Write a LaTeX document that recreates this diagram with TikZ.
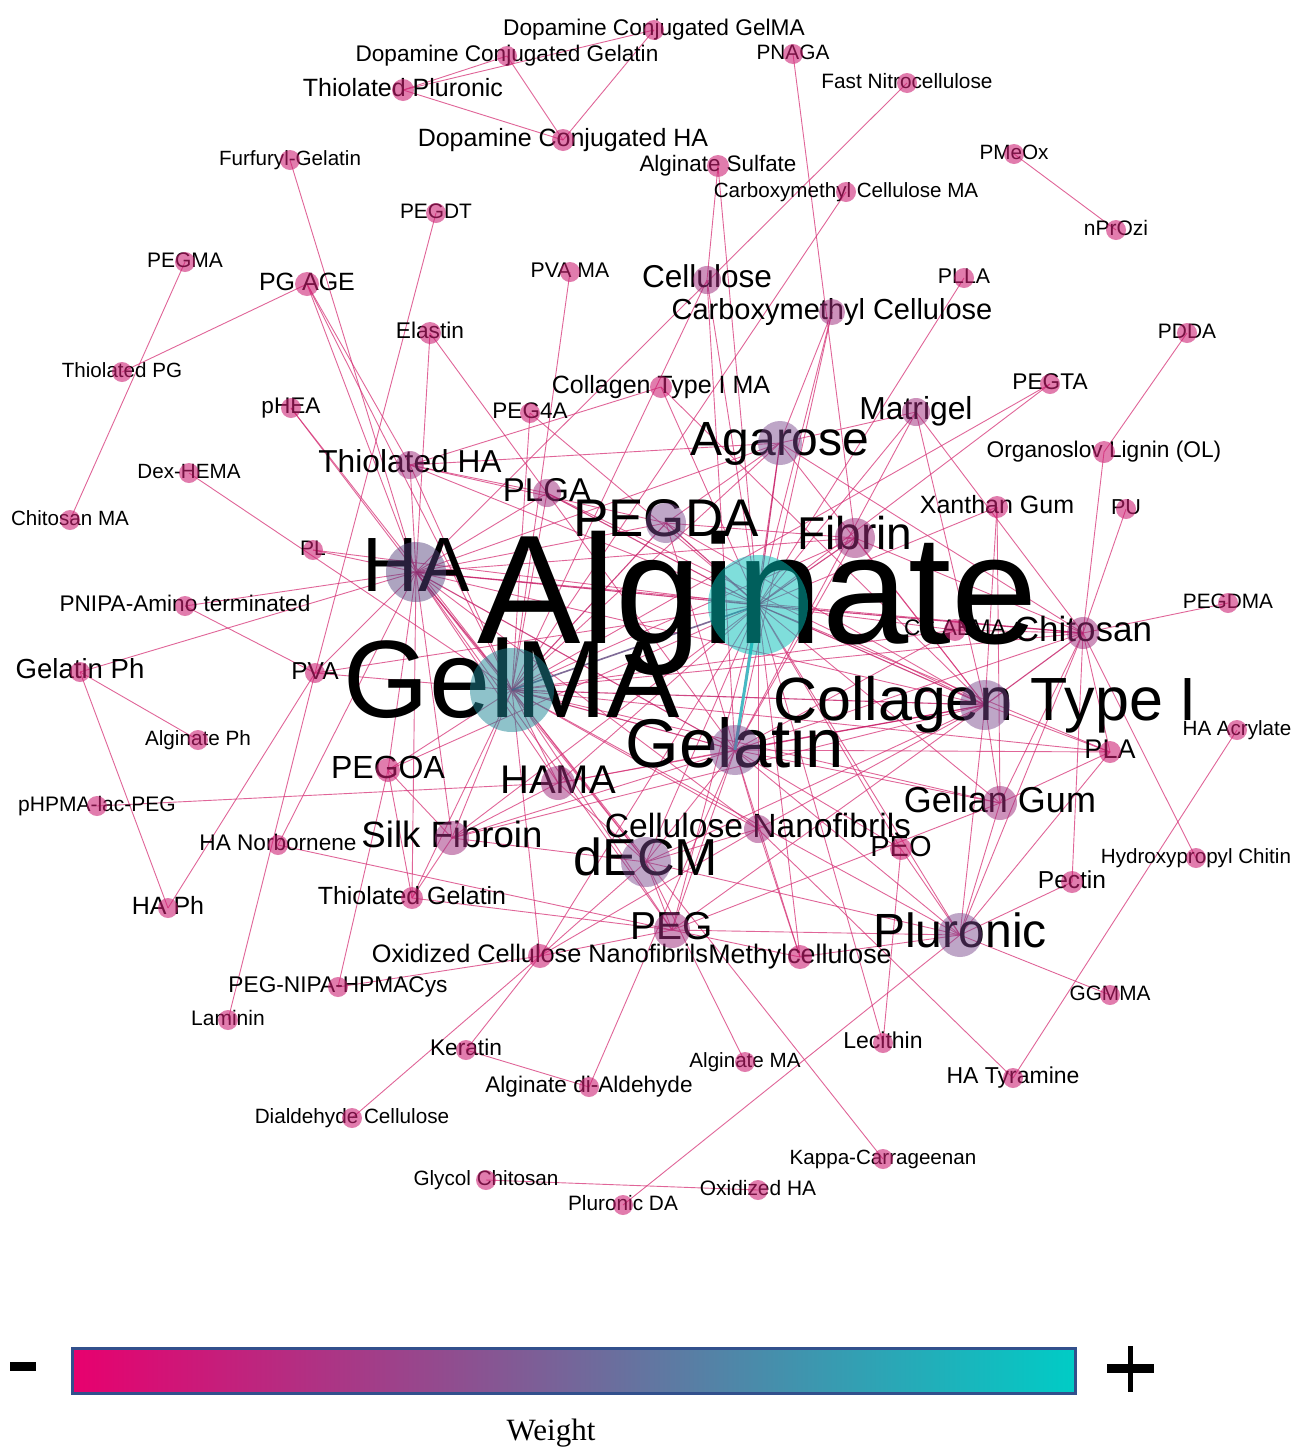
\documentclass[tikz,border=0pt]{standalone}
\usepackage{fontspec}
\setmainfont{Liberation Sans}
\newfontfamily\serifw{Liberation Serif}
\pgfdeclarelayer{bgl}
\pgfdeclarelayer{edges}
\pgfdeclarelayer{top}
\pgfsetlayers{bgl,edges,main,top}
\definecolor{edgec}{RGB}{214,50,118}
\definecolor{edged}{RGB}{196,25,100}
\definecolor{smc}{RGB}{205,30,115}
\definecolor{mdc}{RGB}{160,45,125}
\definecolor{lvc}{RGB}{120,70,140}
\definecolor{hac}{RGB}{85,65,125}
\definecolor{cyc}{RGB}{0,190,185}
\definecolor{gmc}{RGB}{30,135,150}
\definecolor{tealedge}{RGB}{70,185,195}
\definecolor{purpedge}{RGB}{95,70,125}
\definecolor{barl}{RGB}{232,0,110}
\definecolor{barm}{RGB}{127,100,152}
\definecolor{barr}{RGB}{0,204,198}
\definecolor{barblue}{RGB}{50,80,140}
\newcommand\myfs[1]{\fontsize{#1pt}{#1pt}\selectfont}
\tikzset{
  cnode/.style={circle,inner sep=0pt,draw=none},
  sm/.style={cnode,fill=smc,fill opacity=0.58},
  md/.style={cnode,fill=mdc,fill opacity=0.52},
  lv/.style={cnode,fill=lvc,fill opacity=0.48},
  hv/.style={cnode,fill=hac,fill opacity=0.48},
  cy/.style={cnode,fill=cyc,fill opacity=0.5},
  gm/.style={cnode,fill=gmc,fill opacity=0.5},
  lbl/.style={inner sep=0pt,anchor=center,text=black},
  edge/.style={draw=edgec,draw opacity=0.75,line width=0.9pt},
  edgeh/.style={draw=edged,draw opacity=0.8,line width=1.1pt},
}
% style, name, x, y, radius, font size, text
\newcommand\nd[7]{%
  \begin{pgfonlayer}{top}\node[#1,minimum size={2*#5}] (#2) at (#3,#4) {};\end{pgfonlayer}
  \node[lbl,font=\myfs{#6},text height={0.72*#6},text depth={0.22*#6}] at (#3,#4) {#7};}
\begin{document}
\begin{tikzpicture}[x=1pt,y=-1pt]
\useasboundingbox (0,0) rectangle (1312,1449);
\begin{pgfonlayer}{bgl}\fill[white] (0,0) rectangle (1312,1449);\end{pgfonlayer}
% ---------- nodes ----------
\nd{sm}{dcgm}{654}{30}{10}{22.7}{Dopamine Conjugated GelMA}
\nd{sm}{dcgel}{507}{56}{10}{22.6}{Dopamine Conjugated Gelatin}
\nd{sm}{tplu}{403}{90}{11}{25}{Thiolated Pluronic}
\nd{sm}{pnaga}{793}{54}{10}{20.8}{PNAGA}
\nd{sm}{fnc}{907}{83}{10}{20.8}{Fast Nitrocellulose}
\nd{sm}{dcha}{563}{140}{11}{25}{Dopamine Conjugated HA}
\nd{sm}{furf}{290}{160}{10}{20.6}{Furfuryl-Gelatin}
\nd{sm}{algsulf}{718}{166}{11}{22.4}{Alginate Sulfate}
\nd{sm}{pmeox}{1014}{154}{10}{20.7}{PMeOx}
\nd{sm}{cmcma}{846}{192}{10}{20.6}{Carboxymethyl Cellulose MA}
\nd{sm}{pegdt}{436}{213}{10}{20.9}{PEGDT}
\nd{sm}{nprozi}{1116}{230}{10}{21}{nPrOzi}
\nd{sm}{pegma}{185}{262}{10}{21}{PEGMA}
\nd{sm}{pgage}{307}{284}{12}{25}{PG AGE}
\nd{sm}{pvama}{570}{272}{10}{21.2}{PVA MA}
\nd{md}{cell}{707}{280}{14}{31.6}{Cellulose}
\nd{sm}{plla}{964}{278}{10}{21.3}{PLLA}
\nd{md}{cmc}{832}{312}{13}{29}{Carboxymethyl Cellulose}
\nd{sm}{elastin}{430}{333}{11}{22.7}{Elastin}
\nd{sm}{pdda}{1187}{333}{10}{20.9}{PDDA}
\nd{sm}{tpg}{122}{372}{10}{20.6}{Thiolated PG}
\nd{sm}{col1ma}{661}{387}{11}{25}{Collagen Type I MA}
\nd{sm}{phea}{291}{408}{10}{22.6}{pHEA}
\nd{sm}{peg4a}{530}{413}{10}{22.5}{PEG4A}
\nd{sm}{pegta}{1050}{384}{10}{22.7}{PEGTA}
\nd{md}{matrigel}{916}{412}{14}{31.8}{Matrigel}
\nd{lv}{agarose}{780}{443}{22}{48}{Agarose}
\nd{sm}{ol}{1104}{452}{11}{22.7}{Organoslov Lignin (OL)}
\nd{md}{tha}{410}{465}{14}{31.7}{Thiolated HA}
\nd{sm}{dexhema}{189}{473}{10}{20.6}{Dex-HEMA}
\nd{md}{plga}{547}{493}{14}{33}{PLGA}
\nd{sm}{xanthan}{997}{507}{11}{25}{Xanthan Gum}
\nd{sm}{pu}{1126}{509}{10}{21.6}{PU}
\nd{sm}{chitma}{70}{520}{10}{20.6}{Chitosan MA}
\nd{lv}{pegda}{666}{523}{20}{53}{PEGDA}
\nd{md}{fibrin}{855}{538}{20}{46}{Fibrin}
\nd{sm}{pl}{313}{550}{10}{21}{PL}
\nd{sm}{pnipa}{185}{606}{10}{22.6}{PNIPA-Amino terminated}
\nd{sm}{pegdma}{1228}{603}{10}{20.8}{PEGDMA}
\nd{sm}{csaema}{955}{630}{11}{22.6}{CS AEMA}
\nd{md}{chitosan}{1083}{633}{16}{35}{Chitosan}
\nd{sm}{gelph}{80}{672}{10}{27.6}{Gelatin Ph}
\nd{sm}{pva}{315}{673}{10}{24.5}{PVA}
\nd{sm}{haacr}{1237}{730}{10}{20.6}{HA Acrylate}
\nd{sm}{pla}{1110}{752}{11}{27}{PLA}
\nd{sm}{algph}{198}{740}{10}{20.7}{Alginate Ph}
\nd{sm}{pegoa}{388}{770}{12}{32}{PEGOA}
\nd{md}{hama}{558}{783}{17}{40}{HAMA}
\nd{sm}{phpma}{97}{806}{10}{21}{pHPMA-lac-PEG}
\nd{md}{gellan}{1000}{803}{17}{36}{Gellan Gum}
\nd{md}{cnf}{758}{829}{14}{33.6}{Cellulose Nanofibrils}
\nd{sm}{hanorb}{278}{845}{10}{22.6}{HA Norbornene}
\nd{md}{silk}{452}{838}{17}{36.6}{Silk Fibroin}
\nd{sm}{peo}{901}{849}{11}{29}{PEO}
\nd{lv}{decm}{646}{862}{25}{52}{dECM}
\nd{sm}{hpchitin}{1196}{858}{10}{20.6}{Hydroxypropyl Chitin}
\nd{sm}{pectin}{1072}{882}{11}{24.5}{Pectin}
\nd{sm}{haph}{168}{908}{10}{25}{HA Ph}
\nd{sm}{tgel}{412}{898}{11}{24.9}{Thiolated Gelatin}
\nd{md}{peg}{672}{930}{18}{39}{PEG}
\nd{lv}{pluronic}{960}{935}{22}{48}{Pluronic}
\nd{sm}{ocnf}{540}{956}{12}{25.3}{Oxidized Cellulose Nanofibrils}
\nd{sm}{mc}{800}{957}{12}{26.8}{Methylcellulose}
\nd{sm}{pegnipa}{338}{987}{10}{22.7}{PEG-NIPA-HPMACys}
\nd{sm}{ggmma}{1110}{995}{10}{20.8}{GGMMA}
\nd{sm}{laminin}{228}{1020}{10}{21}{Laminin}
\nd{sm}{keratin}{466}{1050}{10}{22.7}{Keratin}
\nd{sm}{lecithin}{883}{1043}{10}{23}{Lecithin}
\nd{sm}{algma}{745}{1062}{10}{20.6}{Alginate MA}
\nd{sm}{hatyr}{1013}{1078}{10}{23}{HA Tyramine}
\nd{sm}{algdiald}{589}{1087}{10}{22.6}{Alginate di-Aldehyde}
\nd{sm}{dialdcell}{352}{1118}{10}{20.7}{Dialdehyde Cellulose}
\nd{sm}{kappa}{883}{1159}{10}{20.6}{Kappa-Carrageenan}
\nd{sm}{glycolchit}{486}{1180}{10}{20.7}{Glycol Chitosan}
\nd{sm}{oxha}{758}{1190}{10}{20.9}{Oxidized HA}
\nd{sm}{pluda}{623}{1205}{10}{20.8}{Pluronic DA}
\nd{hv}{ha}{416}{572}{30}{77}{HA}
\nd{lv}{gelatin}{735}{750}{25}{69}{Gelatin}
\nd{lv}{col1}{985}{705}{25}{61}{Collagen Type I}
\nd{gm}{gelma}{512}{690}{42}{110}{GelMA}
\nd{cy}{alg}{758}{605}{50}{155}{Alginate}
% ---------- edges ----------
\begin{pgfonlayer}{edges}
\foreach \a/\b in {tplu/dcgel,tplu/dcgm,tplu/dcha,dcgel/dcha,dcgm/dcha,
 pnaga/fibrin,fnc/ha,algsulf/cell,algsulf/alg,cmcma/gelma,pmeox/nprozi,furf/ha,
 pegdt/pva,pegma/chitma,tpg/pgage,pgage/ha,pgage/gelma,pgage/tha,pvama/gelma,
 elastin/ha,elastin/plga,col1ma/tha,col1ma/alg,col1ma/col1,peg4a/gelma,peg4a/alg,
 phea/gelma,phea/ha,dexhema/gelma,pl/ha,pl/alg,pnipa/ha,pnipa/pva,gelph/algph,
 gelph/haph,gelph/ha,haph/pva,phpma/hama,hanorb/ha,hanorb/peg,laminin/pva,
 pegnipa/pegoa,pegnipa/ocnf,keratin/ocnf,keratin/algdiald,dialdcell/ocnf,
 algdiald/gelatin,algma/decm,lecithin/alg,lecithin/peo,hatyr/cnf,hatyr/haacr,
 kappa/gelma,glycolchit/oxha,pluda/pluronic,ggmma/pluronic,hpchitin/chitosan,
 pectin/chitosan,pectin/pluronic,pu/chitosan,ol/chitosan,ol/pdda,pegdma/chitosan,
 pegta/gelma,pegta/alg,plla/alg,matrigel/chitosan,matrigel/agarose,matrigel/alg,
 matrigel/gelatin,matrigel/col1,xanthan/alg,xanthan/col1,xanthan/gellan,cell/alg,
 cell/gelatin,cell/gelma,cmc/agarose,cmc/alg,cmc/gelatin,
 agarose/gelma,agarose/gelatin,agarose/ha,agarose/col1,agarose/chitosan,agarose/tha,
 agarose/pegda,tha/ha,tha/gelma,tha/alg,tha/pegda,tha/plga,plga/ha,plga/gelma,
 plga/col1,plga/gelatin,pegda/ha,pegda/gelatin,pegda/col1,pegda/fibrin,
 fibrin/gelma,fibrin/ha,fibrin/col1,fibrin/gelatin,fibrin/chitosan,
 ha/col1,ha/chitosan,ha/hama,ha/pva,ha/pegoa,ha/silk,ha/decm,ha/peg,ha/cnf,
 alg/csaema,alg/gellan,alg/pluronic,alg/cnf,alg/decm,alg/peg,alg/hama,alg/silk,
 alg/pva,alg/pegoa,alg/mc,alg/pla,alg/peo,alg/ocnf,
 gelma/chitosan,gelma/hama,gelma/decm,gelma/peg,gelma/silk,gelma/pegoa,gelma/pva,
 gelma/cnf,gelma/pluronic,gelma/gellan,gelma/ocnf,gelma/tgel,gelma/csaema,gelma/pla,
 gelatin/chitosan,gelatin/hama,gelatin/decm,gelatin/peg,gelatin/pluronic,gelatin/gellan,
 gelatin/cnf,gelatin/mc,gelatin/peo,gelatin/silk,gelatin/pla,gelatin/csaema,
 col1/pla,col1/gellan,col1/pluronic,col1/decm,col1/peg,col1/hama,col1/cnf,col1/silk,
 chitosan/pla,chitosan/gellan,chitosan/pluronic,chitosan/csaema,gellan/pluronic,
 gellan/peg,gellan/pla,pluronic/peg,pluronic/mc,pluronic/peo,pluronic/decm,pluronic/pla,
 decm/hama,decm/peg,decm/silk,decm/ocnf,silk/tgel,silk/pegoa,silk/hama,tgel/pegoa,
 tgel/ha,peg/ocnf,peg/mc,peg/tgel,cnf/mc,cnf/decm,cnf/ocnf}
 \draw[edge] (\a.center) -- (\b.center);
\foreach \a/\b in {agarose/alg,ha/alg,ha/gelma,ha/gelatin,alg/col1,alg/chitosan,
 gelma/gelatin,gelma/col1,gelatin/col1,col1/chitosan,pegda/gelma,pegda/alg,
 fibrin/alg,plga/alg}
 \draw[edgeh] (\a.center) -- (\b.center);
\draw[draw=purpedge,line width=1.6pt,draw opacity=0.8] (gelma.center) -- (alg.center);
\draw[draw=tealedge,line width=3pt] (alg.center) -- (gelatin.center);
\end{pgfonlayer}
% ---------- colour bar ----------
\node[draw=barblue,line width=3pt,minimum width=1003,minimum height=45,inner sep=0pt,
  shading=axis,left color=barl,middle color=barm,right color=barr] (bar) at (573.5,1370.5) {};
\node[fill=black,minimum width=26,minimum height=9,inner sep=0pt] (minus) at (23,1366) {};
\node[fill=black,minimum width=47,minimum height=9,inner sep=0pt] (plush) at (1130,1368) {};
\node[fill=black,minimum width=5,minimum height=46,inner sep=0pt] (plusv) at (1130,1369) {};
\node[inner sep=0pt,font=\serifw\myfs{31}] (weight) at (551,1433) {Weight};
\end{tikzpicture}
\end{document}
